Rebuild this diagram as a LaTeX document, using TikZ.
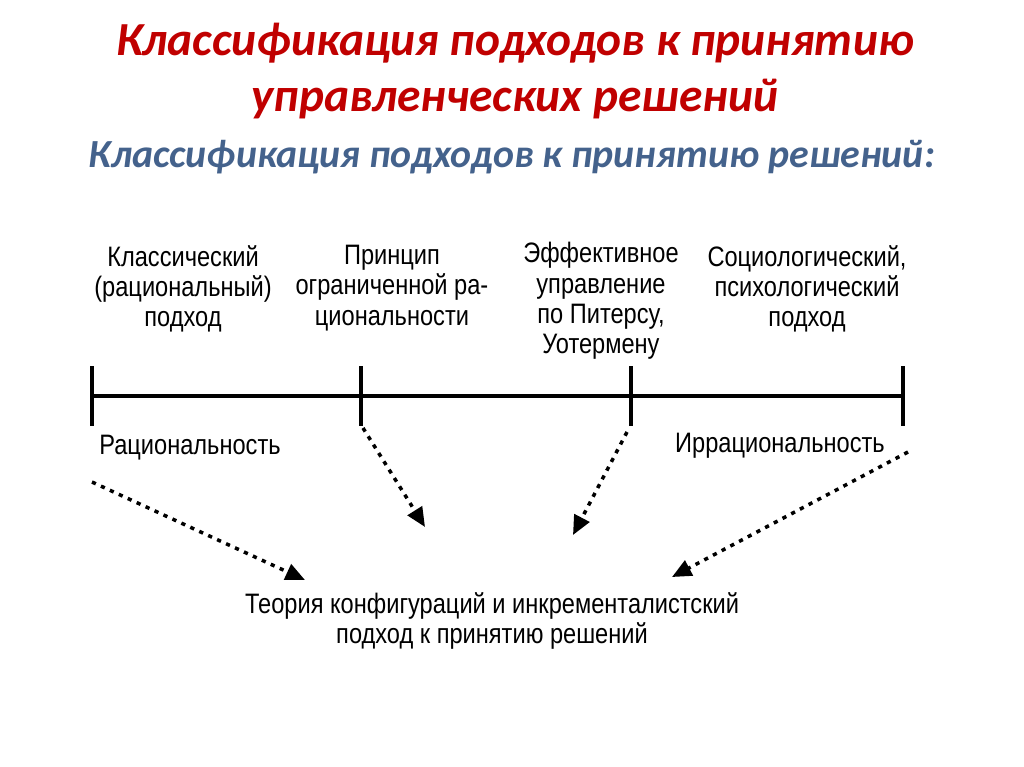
\documentclass[tikz,border=0pt]{standalone}
\usepackage{fontspec}
\setmainfont{Carlito}
\newfontfamily\narrowfont[FakeStretch=0.84]{Liberation Sans}
\usetikzlibrary{arrows.meta}
\definecolor{titlered}{RGB}{192,0,0}
\definecolor{subblue}{RGB}{68,98,140}

\begin{document}
\begin{tikzpicture}[x=0.02cm, y=-0.02cm,
    title_node/.style={font=\fontsize{27}{32}\selectfont\bfseries\itshape, text=titlered, align=center},
    sub_node/.style={font=\fontsize{22.7}{27}\selectfont\bfseries\itshape, text=subblue},
    label_node/.style={font=\narrowfont\fontsize{16}{17.2}\selectfont, align=center, inner sep=0pt},
    dot_arrow/.style={line width=2pt, dash pattern=on 2.4pt off 3.2pt, -{Triangle[length=11pt,width=9.5pt]}}]

    \useasboundingbox (0,0) rectangle (1024,767);

    \node[title_node] (title) at (515,71) {Классификация подходов к принятию\\управленческих решений};
    \node[sub_node] (sub) at (512,157) {Классификация подходов к принятию решений:};

    \coordinate (t1) at (92,396);
    \coordinate (t2) at (361,396);
    \coordinate (t3) at (631,396);
    \coordinate (t4) at (903,396);
    \draw[line width=1.8pt] (t1) -- (t4);
    \foreach \t in {t1,t2,t3,t4}
        \draw[line width=1.8pt] ([yshift=-17]\t) -- ([yshift=17]\t);

    \node[label_node] (classic) at (183,289) {Классический\\(рациональный)\\подход};
    \node[label_node] (bounded) at (392,288) {Принцип\\ограниченной ра-\\циональности};
    \node[label_node] (peters) at (601,301) {Эффективное\\управление\\по Питерсу,\\Уотермену};
    \node[label_node] (socio) at (807,289) {Социологический,\\психологический\\подход};

    \node[label_node] (rat) at (190,448) {Рациональность};
    \node[label_node] (irrat) at (780,446) {Иррациональность};

    \node[label_node] (theory) at (492,621) {Теория конфигураций и инкременталистский\\подход к принятию решений};

    \coordinate (a1) at (92,482);
    \coordinate (b1) at (305,580);
    \coordinate (a2) at (363,428);
    \coordinate (b2) at (425,527);
    \coordinate (a3) at (627,432);
    \coordinate (b3) at (573,535);
    \coordinate (a4) at (908,452);
    \coordinate (b4) at (672,577);
    \draw[dot_arrow] (a1) -- (b1);
    \draw[dot_arrow] (a2) -- (b2);
    \draw[dot_arrow] (a3) -- (b3);
    \draw[dot_arrow] (a4) -- (b4);
\end{tikzpicture}
\end{document}
